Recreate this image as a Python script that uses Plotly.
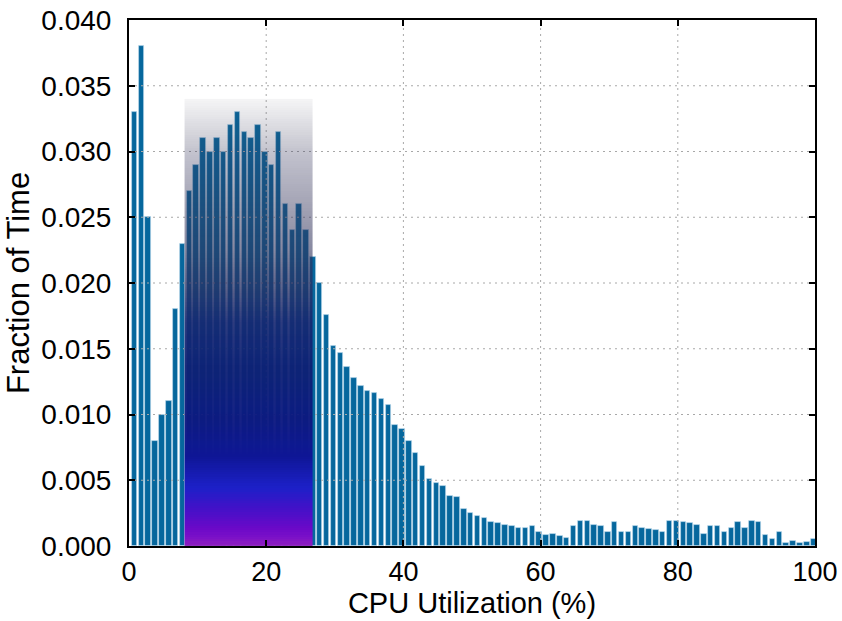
import numpy as np
import plotly.graph_objects as go

# ---------------- data ----------------
cpu_bins = list(range(1, 101))
fraction_of_time = [
    0.033, 0.038, 0.025, 0.008, 0.010, 0.011, 0.018, 0.023, 0.027, 0.029,
    0.031, 0.030, 0.031, 0.030, 0.032, 0.033, 0.0315, 0.031, 0.032, 0.030,
    0.029, 0.0315, 0.026, 0.024, 0.026, 0.024, 0.022, 0.020, 0.0176, 0.0152,
    0.0147, 0.0136, 0.0128, 0.0122, 0.0118, 0.0116, 0.0112, 0.0107, 0.0092, 0.0089,
    0.0080, 0.0071, 0.0061, 0.0051, 0.0048, 0.0046, 0.0038, 0.0037, 0.0028, 0.0025,
    0.0023, 0.0021, 0.0018, 0.00175, 0.0016, 0.0015, 0.0014, 0.0014, 0.0015, 0.0011,
    0.0008, 0.0009, 0.00075, 0.0006, 0.0015, 0.0019, 0.0019, 0.0016, 0.0015, 0.0011,
    0.0018, 0.0011, 0.0011, 0.0015, 0.0014, 0.0013, 0.00125, 0.0011, 0.0019, 0.0019,
    0.0018, 0.00175, 0.0016, 0.0009, 0.0015, 0.0015, 0.0011, 0.0014, 0.0018, 0.0014,
    0.0019, 0.0018, 0.0008, 0.0005, 0.0011, 0.0002, 0.0004, 0.0002, 0.0003, 0.0005,
]
x_ticks = [0, 20, 40, 60, 80, 100]
y_ticks = [0.000, 0.005, 0.010, 0.015, 0.020, 0.025, 0.030, 0.035, 0.040]
y_ticktext = [f"{v:.3f}" for v in y_ticks]

# highlighted (gradient) band
band_x = [8.1, 26.75]
band_top = 0.034
# gradient stops: (fraction from bottom, rgba)
band_stops = [
    (0.00, "rgba(142,30,190,1)"),
    (0.02, "rgba(122,16,200,1)"),
    (0.04, "rgba(106,8,200,1)"),
    (0.08, "rgba(70,16,200,1)"),
    (0.13, "rgba(28,32,200,1)"),
    (0.20, "rgba(14,22,150,1)"),
    (0.28, "rgba(12,24,128,0.96)"),
    (0.40, "rgba(14,32,116,0.95)"),
    (0.50, "rgba(22,38,112,0.9)"),
    (0.58, "rgba(40,46,98,0.74)"),
    (0.66, "rgba(48,50,92,0.58)"),
    (0.77, "rgba(52,52,90,0.44)"),
    (0.88, "rgba(52,52,90,0.3)"),
    (1.00, "rgba(60,60,80,0.05)"),
]

bar_positions = [b - 0.2 for b in cpu_bins]

fig = go.Figure()

fig.add_trace(go.Bar(
    x=bar_positions, y=fraction_of_time, width=0.8,
    marker=dict(color="#06679d", line=dict(color="rgba(190,220,238,0.75)", width=0.8)),
    hoverinfo="skip", showlegend=False,
))

# grid lines drawn above the bars (as in the original)
gx, gy = [], []
for v in y_ticks[1:-1]:
    gx += [0, 100, None]
    gy += [v, v, None]
for v in x_ticks[1:-1]:
    gx += [v, v, None]
    gy += [0, 0.04, None]
fig.add_trace(go.Scatter(
    x=gx, y=gy, mode="lines",
    line=dict(color="#a8a8a8", width=1, dash="2px,4px"),
    hoverinfo="skip", showlegend=False,
))

# gradient band overlaid on top (on overlaying axes)
n_rows = 200
y_edges = np.linspace(0, band_top, n_rows + 1)
t_centers = (np.arange(n_rows) + 0.5) / n_rows
fig.add_trace(go.Heatmap(
    x=band_x, y=y_edges, z=[[t] for t in t_centers],
    zmin=0, zmax=1, colorscale=[[s, c] for s, c in band_stops],
    showscale=False, hoverinfo="skip", xaxis="x2", yaxis="y2",
))

axis_common = dict(
    showline=True, linecolor="black", linewidth=2, mirror="ticks",
    ticks="inside", ticklen=6, tickwidth=1.5, tickcolor="black",
    showgrid=False, zeroline=False, automargin=False,
    ticklabeloverflow="allow",
)

fig.update_layout(
    width=842, height=621,
    margin=dict(l=129, r=27, t=20, b=75),
    plot_bgcolor="white", paper_bgcolor="white",
    font=dict(family="Liberation Sans", color="black"),
    bargap=0,
    xaxis=dict(
        range=[0, 100], tickvals=x_ticks, ticktext=[str(v) for v in x_ticks],
        ticklabelstandoff=1,
        tickfont=dict(size=27, family="Liberation Sans", color="black"),
        title=dict(text="CPU Utilization (%)", font=dict(size=29), standoff=4),
        **axis_common,
    ),
    yaxis=dict(
        range=[0, 0.04], tickvals=y_ticks, ticktext=y_ticktext,
        ticklabelstandoff=10,
        tickfont=dict(size=28, family="Liberation Sans", color="black"),
        title=dict(text="Fraction of Time", font=dict(size=31), standoff=2),
        **axis_common,
    ),
    xaxis2=dict(overlaying="x", range=[0, 100], visible=False),
    yaxis2=dict(overlaying="y", range=[0, 0.04], visible=False),
)

fig.write_html("out.html")
